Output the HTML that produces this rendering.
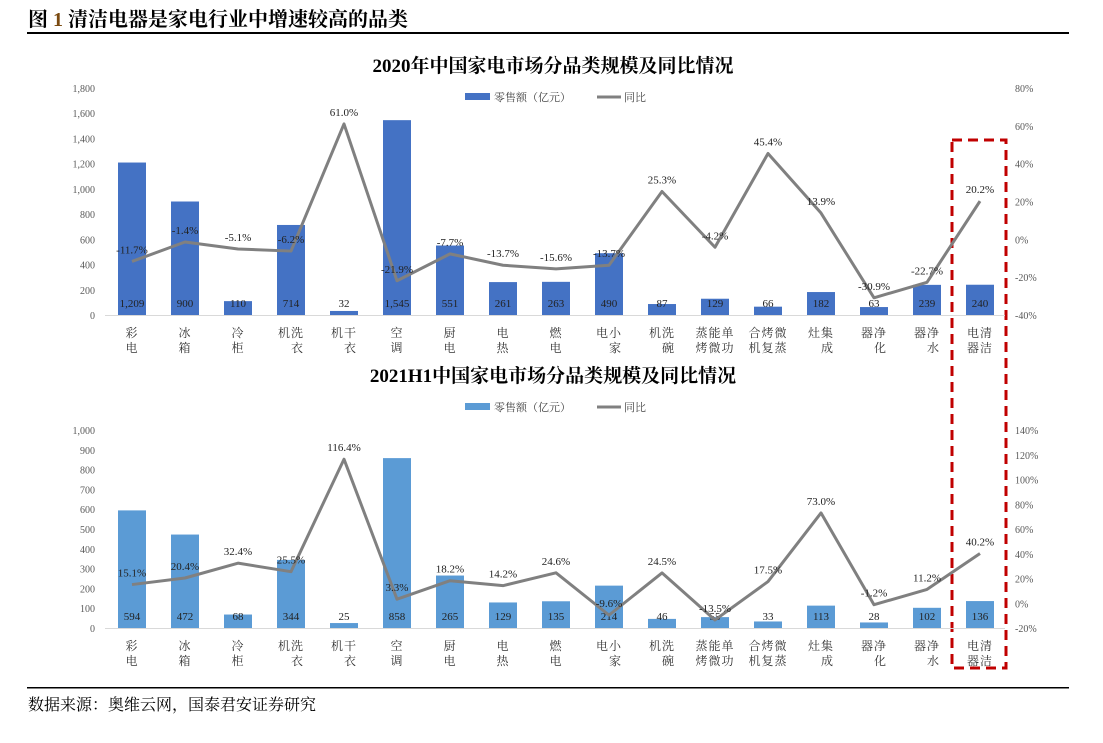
<!DOCTYPE html>
<html><head><meta charset="utf-8">
<style>
body{margin:0;background:#fff;}
svg{display:block;font-family:"Liberation Serif","Noto Serif CJK SC","Noto Sans CJK SC",serif;}
</style></head>
<body>
<svg id="svg" width="1103" height="743" viewBox="0 0 1103 743">
<text x="28" y="26" font-size="20" font-weight="bold">图 <tspan fill="#7a4a10">1</tspan> 清洁电器是家电行业中增速较高的品类</text>
<rect x="27" y="32" width="1042" height="2" fill="#000"/>
<rect x="27" y="687" width="1042" height="1.5" fill="#000"/>
<text x="28" y="710" font-size="16">数据来源：奥维云网，国泰君安证券研究</text>
<rect x="952" y="140" width="54" height="528" fill="none" stroke="#c00000" stroke-width="3" stroke-dasharray="10,6"/>
<g id="g"></g>
</svg>
<script>
const categories=[["彩","电"],["冰","箱"],["冷","柜"],["机洗","衣"],["机干","衣"],["空","调"],["厨","电"],["电","热"],["燃","电"],["电小","家"],["机洗","碗"],["蒸能单","烤微功"],["合烤微","机复蒸"],["灶集","成"],["器净","化"],["器净","水"],["电清","器洁"]];
const sales2020=[1209,900,110,714,32,1545,551,261,263,490,87,129,66,182,63,239,240];
const yoy2020=[-11.7,-1.4,-5.1,-6.2,61.0,-21.9,-7.7,-13.7,-15.6,-13.7,25.3,-4.2,45.4,13.9,-30.9,-22.7,20.2];
const sales2021=[594,472,68,344,25,858,265,129,135,214,46,55,33,113,28,102,136];
const yoy2021=[15.1,20.4,32.4,25.5,116.4,3.3,18.2,14.2,24.6,-9.6,24.5,-13.5,17.5,73.0,-1.2,11.2,40.2];
const leftTicks2020=[0,200,400,600,800,1000,1200,1400,1600,1800];
const rightTicks2020=[-40,-20,0,20,40,60,80];
const leftTicks2021=[0,100,200,300,400,500,600,700,800,900,1000];
const rightTicks2021=[-20,0,20,40,60,80,100,120,140];

const NS="http://www.w3.org/2000/svg";
const g=document.getElementById('g');
function el(tag,attrs,text){const e=document.createElementNS(NS,tag);for(const k in attrs)e.setAttribute(k,attrs[k]);if(text!==undefined)e.textContent=text;g.appendChild(e);return e;}
const xc=i=>132+i*53;
const fmt=v=>v.toLocaleString('en-US');

function chart(o){
  const yL=v=>o.base-(v-o.lmin)/(o.lmax-o.lmin)*(o.base-o.top);
  const yR=v=>o.base-(v-o.rmin)/(o.rmax-o.rmin)*(o.base-o.top);
  let t=el('text',{x:553,y:o.titleY,'font-size':19,'font-weight':'bold','text-anchor':'middle'},o.title);
  
  // legend
  let r=el('rect',{x:465,y:o.legY-4,width:25,height:7,fill:o.color});
  
  el('text',{x:494,y:o.legY+4,'font-size':11,fill:'#444'},'零售额（亿元）');
  let l=el('line',{x1:597,x2:621,y1:o.legY,y2:o.legY,stroke:'#808080','stroke-width':3});
  
  el('text',{x:624,y:o.legY+4,'font-size':11,fill:'#444'},'同比');
  o.lt.forEach(v=>{const e=el('text',{x:95,y:yL(v)+4,'font-size':10,fill:'#595959','text-anchor':'end'},fmt(v));
    });
  o.rt.forEach(v=>{const e=el('text',{x:1015,y:yR(v)+4,'font-size':10,fill:'#595959'},v+'%');
    });
  el('line',{x1:105,x2:1005,y1:o.base+0.5,y2:o.base+0.5,stroke:'#d9d9d9'});
  o.sales.forEach((v,i)=>{
    const b=el('rect',{x:xc(i)-14,y:yL(v),width:28,height:o.base-yL(v),fill:o.color});
    
    const tx=el('text',{x:xc(i),y:o.base-8,'font-size':11,'text-anchor':'middle',fill:'#222'},fmt(v));
    
  });
  const pts=o.yoy.map((v,i)=>xc(i)+','+yR(v)).join(' ');
  const pl=el('polyline',{points:pts,fill:'none',stroke:'#808080','stroke-width':3,'stroke-linejoin':'round'});
  
  o.yoy.forEach((v,i)=>{
    const tx=el('text',{x:xc(i),y:yR(v)-8,'font-size':11,'text-anchor':'middle',fill:'#222'},v.toFixed(1)+'%');
    
  });
  categories.forEach((c,i)=>{
    const w=c[0].length*13;const xe=xc(i)+w/2;
    c.forEach((s,j)=>{const tx=el('text',{x:xe,y:o.base+22+j*15,'font-size':12,'text-anchor':'end','letter-spacing':1,fill:'#333'},s);
      });
  });
}
chart({id:'chart-2020',title:'2020年中国家电市场分品类规模及同比情况',titleY:72,legY:97,base:315,top:88,lmin:0,lmax:1800,rmin:-40,rmax:80,
  lt:leftTicks2020,rt:rightTicks2020,sales:sales2020,yoy:yoy2020,color:'#4472C4'});
chart({id:'chart-2021h1',title:'2021H1中国家电市场分品类规模及同比情况',titleY:382,legY:407,base:628,top:430,lmin:0,lmax:1000,rmin:-20,rmax:140,
  lt:leftTicks2021,rt:rightTicks2021,sales:sales2021,yoy:yoy2021,color:'#5B9BD5'});
</script>
</body></html>
